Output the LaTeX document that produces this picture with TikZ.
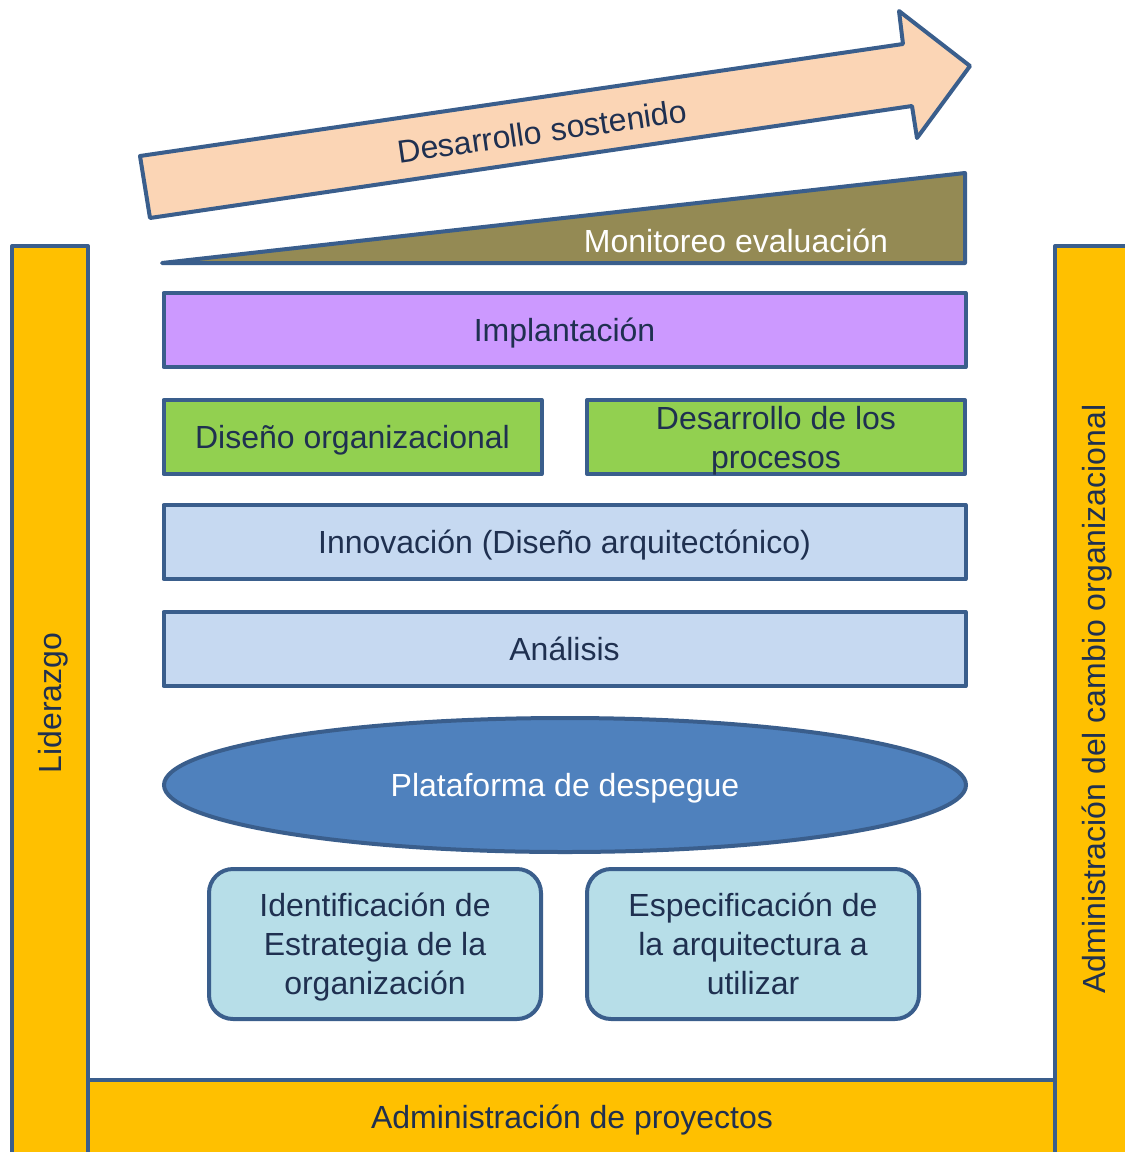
\documentclass[tikz,border=0pt]{standalone}
\usepackage{fontspec}
\setmainfont{Liberation Sans}
\usetikzlibrary{positioning}
\usetikzlibrary{shapes.geometric}

\definecolor{edgeblue}{HTML}{3A5E8C}
\definecolor{txtblue}{HTML}{1F3050}
\definecolor{barorange}{HTML}{FFC000}
\definecolor{arrowpeach}{HTML}{FBD5B5}
\definecolor{monolive}{HTML}{948A54}
\definecolor{implviolet}{HTML}{CC99FF}
\definecolor{disgreen}{HTML}{92D050}
\definecolor{layblue}{HTML}{C6D9F1}
\definecolor{platblue}{HTML}{4F81BD}
\definecolor{baseblue}{HTML}{B7DEE8}

\tikzset{
  txt/.style={text=txtblue, font=\fontsize{32}{39}\selectfont, align=center, inner sep=0pt, text depth=0pt},
  layer/.style={txt, draw=edgeblue, line width=4pt, line join=round, minimum height=74pt},
  bar/.style={txt, draw=edgeblue, fill=barorange, line width=4pt, line join=round},
  basebox/.style={layer, fill=baseblue, rounded corners=24pt, minimum width=332pt, minimum height=150pt},
}

\begin{document}
\begin{tikzpicture}[x=1pt,y=-1pt]
\useasboundingbox (0,0) rectangle (1125,1152);
% side and bottom bars
\node[bar, rotate=90, minimum width=914pt, minimum height=76pt] (lider) at (50,703) {Liderazgo};
\node[bar, rotate=90, minimum width=914pt, minimum height=76pt] (cambio) at (1093,703) {};
\node[txt, rotate=90] (cambiotxt) at (1094,699) {Administración del cambio organizacional};
\node[bar, minimum width=967pt, minimum height=80pt] (proy) at (571.5,1120) {};
\node[txt] (proytxt) at (572,1117) {Administración de proyectos};

% arrow
\draw[edgeblue, fill=arrowpeach, line width=4pt, line join=round]
  (140,156) -- (903,44) -- (899,11) -- (970,66) -- (917,138) -- (912,106) -- (150,218) -- cycle;
\node[txt, rotate=8.2] (desarr) at (542,131) {Desarrollo sostenido};

% monitoring wedge
\draw[edgeblue, fill=monolive, line width=4pt, line join=round]
  (162,263) -- (965,173) -- (965,263) -- cycle;
\node[txt, text=white] (monit) at (736,241) {Monitoreo evaluación};

% layers
\node[layer, fill=implviolet, minimum width=802pt] (impl) at (564.5,330) {Implantación};
\node[layer, fill=disgreen, minimum width=378pt] (disorg) at (352.5,437) {Diseño organizacional};
\node[layer, fill=disgreen, minimum width=378pt] (desproc) at (776,437) {Desarrollo de los\\procesos};
\node[layer, fill=layblue, minimum width=802pt] (innov) at (564.5,542) {Innovación (Diseño arquitectónico)};
\node[layer, fill=layblue, minimum width=802pt] (anal) at (564.5,649) {Análisis};

\node[ellipse, txt, text=white, draw=edgeblue, fill=platblue, line width=4pt,
  minimum width=802pt, minimum height=134pt] (plat) at (565,785) {Plataforma de despegue};

\node[basebox] (ident) at (375,944) {Identificación de\\Estrategia de la\\organización};
\node[basebox] (espec) at (753,944) {Especificación de\\la arquitectura a\\utilizar};
\end{tikzpicture}
\end{document}
